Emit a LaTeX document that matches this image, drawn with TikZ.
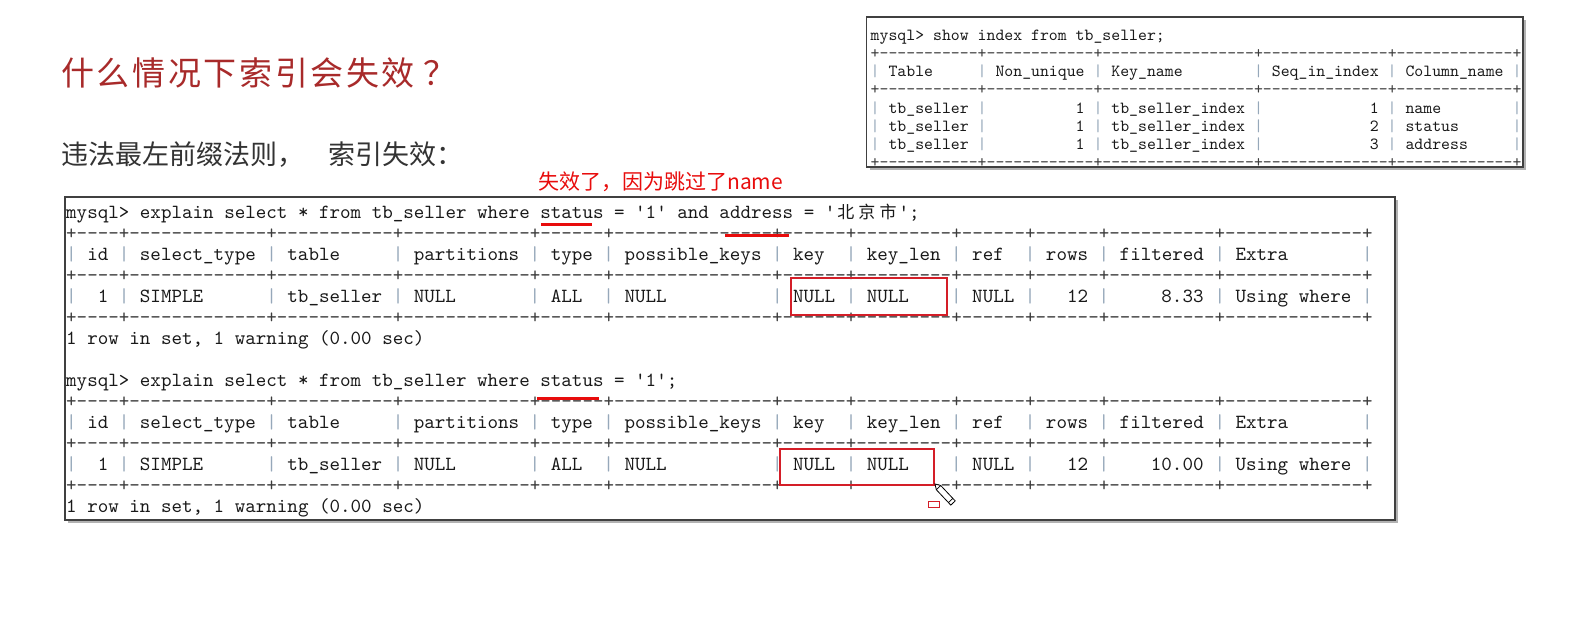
\documentclass[tikz,border=0pt]{standalone}
\usepackage{fontspec}
\usetikzlibrary{shadows}
\newfontfamily\cjk{Noto Sans CJK SC}
\newfontfamily\titlefont[LetterSpace=8]{Noto Sans CJK SC}
\newfontfamily\sqlfont{lmmono10-regular}[Extension=.otf]
\definecolor{titlered}{RGB}{168,42,42}
\definecolor{markred}{RGB}{232,12,12}
\definecolor{hitred}{RGB}{212,30,40}
\definecolor{pipegray}{RGB}{150,168,186}
\definecolor{dashgray}{RGB}{60,60,60}
\newcommand\seprule[1]{+\foreach \w in {#1}{\foreach \i in {1,...,\w}{-}+}}
\newcommand\wide[1]{\makebox[21.07pt]{\cjk\fontsize{17}{20}\selectfont #1}}
\frenchspacing

\begin{document}
\begin{tikzpicture}[x=1pt,y=-1pt,
	sql/.style={font=\sqlfont\fontsize{20.07}{24}\selectfont,anchor=base west,inner sep=0pt,text=black!90},
	sqls/.style={font=\sqlfont\fontsize{16.98}{20}\selectfont,anchor=base west,inner sep=0pt,text=black!90},
	dashrow/.style={text=dashgray},
	pipe/.style={text=pipegray},
	termbox/.style={draw=black!75,line width=1.6pt,fill=white,drop shadow={shadow xshift=3pt,shadow yshift=-3pt,fill=black,opacity=0.3}},
	redline/.style={draw=markred,line width=3pt},
	keybox/.style={draw=hitred,line width=2.4pt}]
	\path[use as bounding box,fill=white] (0,0) rectangle (1596,630);

	\node[anchor=west,inner sep=0pt,text=titlered,font=\titlefont\fontsize{33}{38}\selectfont] (title) at (61,73) {什么情况下索引会失效\hspace{9pt}？};
	\node[anchor=west,inner sep=0pt,text=black!80,font=\cjk\fontsize{27}{32}\selectfont] (rule) at (61,155) {违法最左前缀法则，\hspace{24pt}索引失效：};

	% show index
	\path[termbox] (866.5,17) rectangle (1523,167);
	\node[sqls] (showq) at (870.5,40.5) {mysql> show index from tb\_seller;};
	\foreach \r in {1,3,7}
		\node[sqls,dashrow] (isep-\r) at (870.5,{40.5+18.14*\r}) {\seprule{11,12,17,14,13}};
	\foreach \r in {2,4,5,6}
		\foreach \c in {0,12,25,43,58,72}
			\node[sqls,pipe] (ipipe-\r-\c) at ({870.5+\c*8.914},{40.5+18.14*\r}) {|};
	\foreach \c/\t in {2/Table,14/Non\_unique,27/Key\_name,45/Seq\_in\_index,60/Column\_name}
		\node[sqls] (ihead-\c) at ({870.5+\c*8.914},{40.5+18.14*2}) {\t};
	\foreach \n/\col in {1/name,2/status,3/address}{
		\foreach \c/\t in {2/tb\_seller,23/1,27/tb\_seller\_index,56/\n,60/\col}
			\node[sqls] (icell-\n-\c) at ({870.5+\c*8.914},{40.5+18.14*(\n+3)}) {\t};
	}

	% explain
	\path[termbox] (65,197) rectangle (1395,520);
	\node[sql] (q1) at (66,218.5) {mysql> explain select * from tb\_seller where status = '1' and address = '\wide{北}\wide{京}\wide{市}';};
	\node[sql] (q2) at (66,386.5) {mysql> explain select * from tb\_seller where status = '1';};
	\foreach \k/\filt in {0/8.33,8/10.00}{
		\foreach \r in {1,3,5}
			\node[sql,dashrow] (sep-\k-\r) at (66,{218.5+21*(\k+\r)}) {\seprule{4,13,11,12,6,15,6,9,6,6,10,13}};
		\foreach \r in {2,4}
			\foreach \c in {0,5,19,31,44,51,67,74,84,91,98,109,123}
				\node[sql,pipe] (pipe-\k-\r-\c) at ({66+\c*10.535},{218.5+21*(\k+\r)}) {|};
		\foreach \c/\t in {2/id,7/select\_type,21/table,33/partitions,46/type,53/possible\_keys,69/key,76/key\_len,86/ref,93/rows,100/filtered,111/Extra}
			\node[sql] (head-\k-\c) at ({66+\c*10.535},{218.5+21*(\k+2)}) {\t};
		\foreach \c/\t in {3/1,7/SIMPLE,21/tb\_seller,33/NULL,46/ALL,53/NULL,69/NULL,76/NULL,86/NULL,95/12,111/Using where}
			\node[sql] (cell-\k-\c) at ({66+\c*10.535},{218.5+21*(\k+4)}) {\t};
		\node[sql,anchor=base east] (filt-\k) at ({66+108*10.535},{218.5+21*(\k+4)}) {\filt};
		\node[sql] (foot-\k) at (66,{218.5+21*(\k+6)}) {1 row in set, 1 warning (0.00 sec)};
	}

	\node[anchor=west,inner sep=0pt,text=markred,font=\cjk\fontsize{21}{25}\selectfont] (note) at (538,182) {失效了，因为跳过了name};
	\draw[redline] (541,224) -- (592,224);
	\draw[redline] (725,235.5) -- (789,235.5);
	\draw[redline] (537,398.5) -- (599,398.5);
	\draw[keybox] (791,278) rectangle (947,315);
	\draw[keybox] (780,449) rectangle (934,485);

	% cursor
	\draw[line width=0.8pt,fill=white] (935,484) -- (940.7,485.5) -- (955.2,500.9) -- (950.8,505.1) -- (936.3,489.7) -- cycle;
	\draw[line width=0.8pt] (940.7,485.5) -- (936.3,489.7) (952.8,498.4) -- (948.4,502.6);
	\draw[hitred,line width=1pt] (928,501) rectangle (939,507);
\end{tikzpicture}
\end{document}
